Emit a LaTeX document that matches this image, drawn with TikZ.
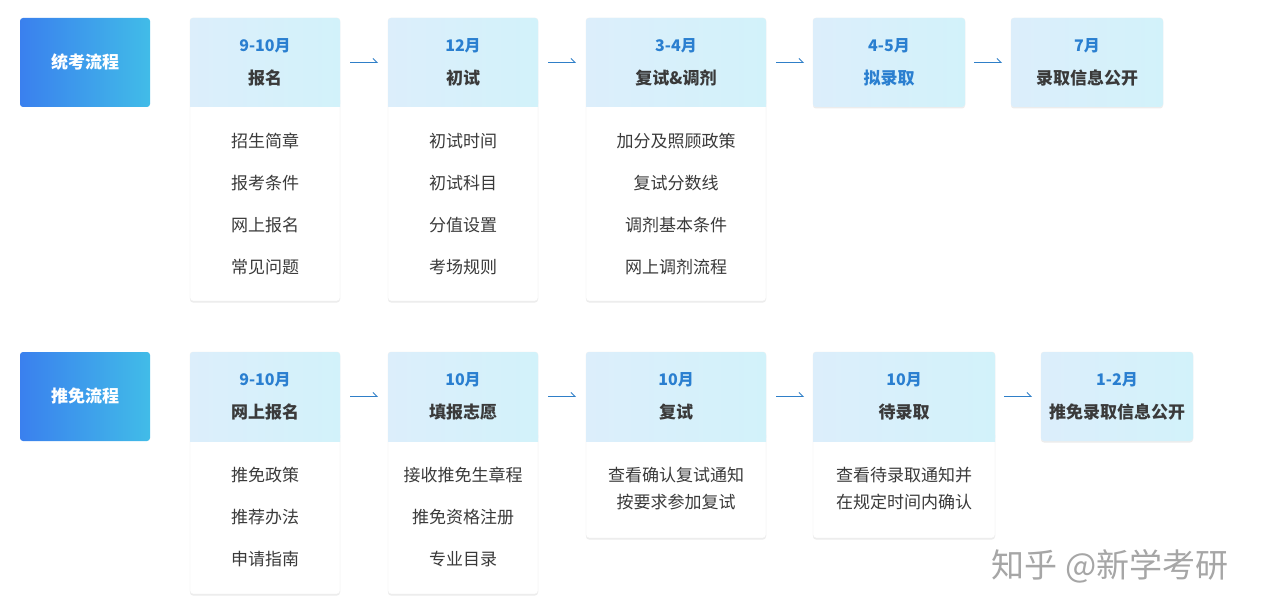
\documentclass[tikz,border=0pt]{standalone}
\usepackage{fontspec}
\setmainfont{Noto Sans CJK SC}
\usetikzlibrary{arrows.meta,shadows}
\definecolor{hdA}{HTML}{DCEEFB}
\definecolor{hdB}{HTML}{D2F2FA}
\definecolor{dateC}{HTML}{2A7FD0}
\definecolor{txt}{HTML}{3A3A3A}
\definecolor{lblA}{HTML}{3A80EE}
\definecolor{lblB}{HTML}{41BCE8}
\definecolor{arr}{HTML}{2F7FC8}
\tikzset{
  card/.style={draw=black!7, fill=white, rounded corners=3pt, drop shadow={shadow xshift=0pt, shadow yshift=-1.5pt, opacity=.15}},
  hdr/.style={left color=hdA, right color=hdB, draw=none},
  lbl/.style={rounded corners=3pt, left color=lblA, right color=lblB, draw=none},
  lbltext/.style={font=\bfseries\fontsize{17}{20}\selectfont, text=white},
  datet/.style={font=\bfseries\fontsize{16}{19}\selectfont, text=dateC},
  titlet/.style={font=\bfseries\fontsize{17}{20}\selectfont, text=txt},
  item/.style={font=\fontsize{17}{20}\selectfont, text=txt},
  two/.style={font=\fontsize{17}{27}\selectfont, text=txt, align=center},
  harp/.style={draw=arr, line width=0.9pt, -{Straight Barb[left,length=4pt,width=8pt]}}
}
\begin{document}
\begin{tikzpicture}[x=1pt,y=-1pt]
\useasboundingbox[fill=white] (0,0) rectangle (1280,615);
\newcommand{\mycard}[6]{% name, x1, x2, y1, yhead, ybottom
  \path[card] (#2,#4) rectangle (#3,#6);
  \path[hdr, rounded corners=3pt] (#2,#4) rectangle (#3,#5);
  \ifdim #6pt>#5pt \path[hdr] (#2,#5-6) rectangle (#3,#5); \fi
  \coordinate (#1) at ({(#2+#3)/2},#4);
  \coordinate (#1l) at (#2,{(#4+#5)/2});
  \coordinate (#1r) at (#3,{(#4+#5)/2});
}
% Row 1
\path[lbl] (20,18) rectangle (150,107);
\node[lbltext] (L1) at (85,62) {统考流程};
\mycard{a1}{190}{340}{18}{107}{301}
\mycard{a2}{388}{538}{18}{107}{301}
\mycard{a3}{586}{766}{18}{107}{301}
\mycard{a4}{813}{965}{18}{107}{107}
\mycard{a5}{1011}{1163}{18}{107}{107}
\foreach \n/\d/\t/\c in {a1/9-10月/报名/txt, a2/12月/初试/txt, a3/3-4月/复试\&调剂/txt, a4/4-5月/拟录取/dateC, a5/7月/录取信息公开/txt}{
  \node[datet] (\n d) at ([yshift=-28]\n) {\d};
  \node[titlet, text=\c] (\n t) at ([yshift=-60]\n) {\t};
}
\foreach \n/\i/\j/\k/\l in {a1/招生简章/报考条件/网上报名/常见问题, a2/初试时间/初试科目/分值设置/考场规则, a3/加分及照顾政策/复试分数线/调剂基本条件/网上调剂流程}{
  \node[item] (\n i1) at ([yshift=-123]\n) {\i};
  \node[item] (\n i2) at ([yshift=-165]\n) {\j};
  \node[item] (\n i3) at ([yshift=-207]\n) {\k};
  \node[item] (\n i4) at ([yshift=-249]\n) {\l};
}
\draw[harp] ([xshift=10]a1r) -- ([xshift=-10]a2l);
\draw[harp] ([xshift=10]a2r) -- ([xshift=-10]a3l);
\draw[harp] ([xshift=10]a3r) -- ([xshift=-9]a4l);
\draw[harp] ([xshift=9]a4r) -- ([xshift=-9]a5l);
% Row 2
\path[lbl] (20,352) rectangle (150,441);
\node[lbltext] (L2) at (85,396) {推免流程};
\mycard{b1}{190}{340}{352}{441}{594}
\mycard{b2}{388}{538}{352}{441}{594}
\mycard{b3}{586}{766}{352}{441}{538}
\mycard{b4}{813}{995}{352}{441}{538}
\mycard{b5}{1041}{1193}{352}{441}{441}
\foreach \n/\d/\t in {b1/9-10月/网上报名, b2/10月/填报志愿, b3/10月/复试, b4/10月/待录取, b5/1-2月/推免录取信息公开}{
  \node[datet] (\n d) at ([yshift=-28]\n) {\d};
  \node[titlet] (\n t) at ([yshift=-60]\n) {\t};
}
\foreach \n/\i/\j/\k in {b1/推免政策/推荐办法/申请指南, b2/接收推免生章程/推免资格注册/专业目录}{
  \node[item] (\n i1) at ([yshift=-123]\n) {\i};
  \node[item] (\n i2) at ([yshift=-165]\n) {\j};
  \node[item] (\n i3) at ([yshift=-207]\n) {\k};
}
\node[two] (b3i) at ([yshift=-137]b3) {查看确认复试通知\\按要求参加复试};
\node[two] (b4i) at ([yshift=-137]b4) {查看待录取通知并\\在规定时间内确认};
\draw[harp] ([xshift=10]b1r) -- ([xshift=-10]b2l);
\draw[harp] ([xshift=10]b2r) -- ([xshift=-10]b3l);
\draw[harp] ([xshift=10]b3r) -- ([xshift=-9]b4l);
\draw[harp] ([xshift=9]b4r) -- ([xshift=-9]b5l);
% watermark
\node[font=\fontsize{33}{36}\selectfont, text=black!35] (wm) at (1110,566) {知乎 @新学考研};
\end{tikzpicture}
\end{document}
